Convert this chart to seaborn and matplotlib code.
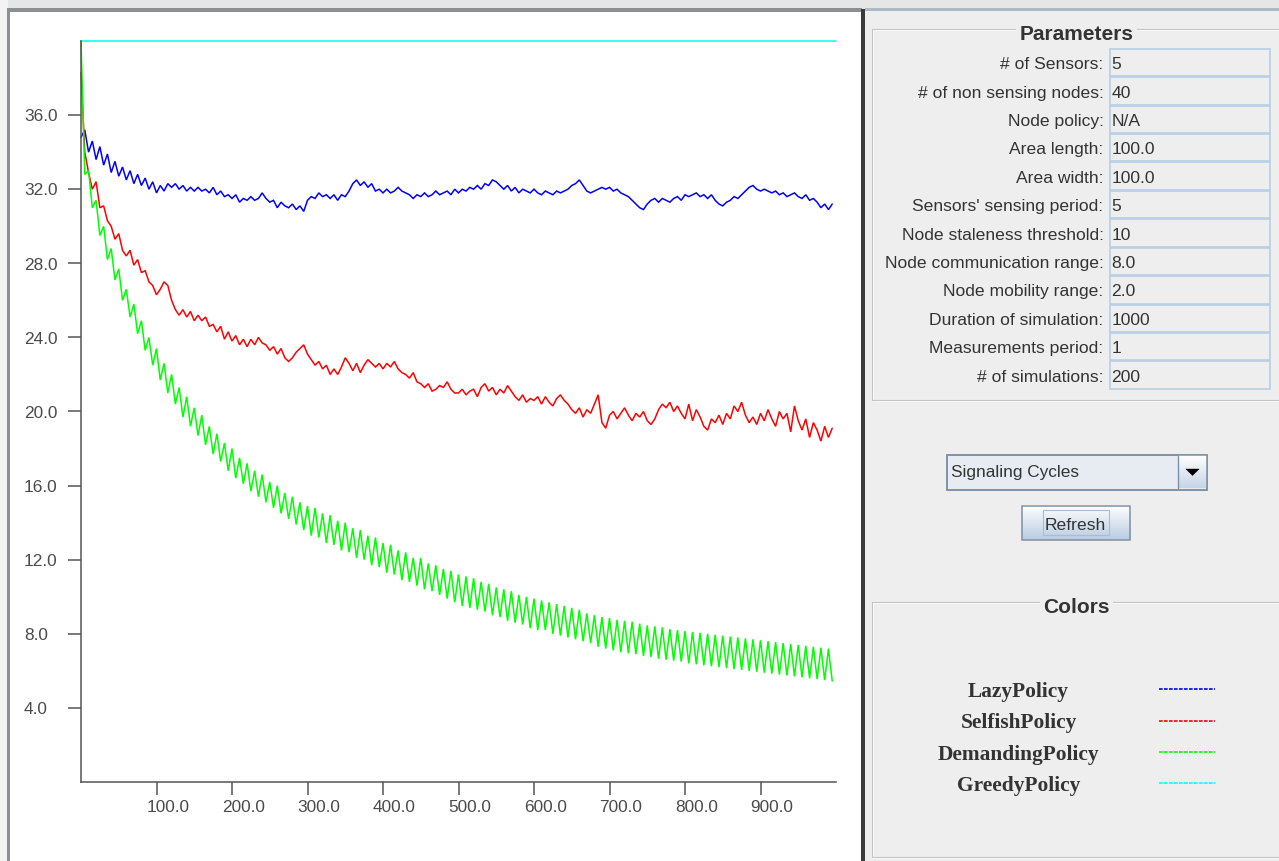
import numpy as np
import pandas as pd
import matplotlib
matplotlib.use("Agg")
import matplotlib.pyplot as plt
import matplotlib.transforms as mtransforms
from matplotlib.patches import Rectangle, Polygon
from matplotlib.lines import Line2D
from matplotlib.colors import to_rgb
import seaborn as sns

W, H = 1279, 861

# ---------------- data ----------------
time_step = 5  # simulation time between listed samples
policies = ["LazyPolicy", "SelfishPolicy", "DemandingPolicy", "GreedyPolicy"]
policy_colors = ["#0000FF", "#FF0000", "#00FF00", "#00FFFF"]

lazy = [
    34.8, 35.2, 34.0, 34.6, 33.6, 34.3, 33.3, 33.9, 32.9, 33.5,
    32.7, 33.2, 32.5, 33.0, 32.3, 32.8, 32.2, 32.6, 32.0, 32.4,
    31.8, 32.2, 31.9, 32.3, 32.1, 32.3, 32.0, 32.2, 31.9, 32.1,
    31.9, 32.1, 31.9, 32.0, 31.8, 32.1, 31.7, 31.9, 31.6, 31.7,
    31.5, 31.7, 31.3, 31.5, 31.4, 31.6, 31.4, 31.5, 31.8, 31.5,
    31.3, 31.4, 31.0, 31.3, 31.1, 31.0, 31.2, 30.9, 31.1, 30.8,
    31.4, 31.6, 31.5, 31.8, 31.6, 31.7, 31.5, 31.7, 31.4, 31.7,
    31.6, 31.9, 32.3, 32.5, 32.2, 32.4, 32.1, 32.3, 31.9, 32.0,
    31.8, 32.0, 31.8, 31.9, 32.1, 31.9, 31.8, 31.7, 31.5, 31.7,
    31.6, 31.8, 31.6, 31.7, 31.9, 31.7, 31.8, 31.9, 31.7, 32.0,
    31.8, 32.0, 31.9, 32.1, 32.0, 32.2, 32.0, 32.3, 32.2, 32.5,
    32.4, 32.2, 32.0, 32.2, 31.9, 32.1, 31.8, 32.0, 31.9, 31.8,
    32.0, 31.8, 31.7, 31.9, 31.8, 31.7, 31.9, 31.8, 31.9, 32.0,
    32.2, 32.3, 32.5, 32.2, 31.9, 31.8, 31.9, 32.0, 32.1, 32.0,
    32.1, 31.9, 32.0, 31.8, 31.7, 31.6, 31.4, 31.2, 31.0, 30.9,
    31.2, 31.4, 31.5, 31.3, 31.5, 31.4, 31.3, 31.5, 31.6, 31.4,
    31.7, 31.6, 31.7, 31.8, 31.6, 31.7, 31.5, 31.7, 31.4, 31.2,
    31.1, 31.3, 31.4, 31.6, 31.5, 31.7, 31.9, 32.1, 32.2, 32.0,
    31.9, 32.0, 31.9, 31.8, 31.9, 31.7, 31.8, 31.6, 31.7, 31.8,
    31.6, 31.5, 31.7, 31.4, 31.5, 31.3, 31.0, 31.2, 30.9, 31.2,
]

selfish = [
    38.3, 34.0, 32.9, 32.0, 32.4, 31.0, 31.1, 30.3, 30.0, 29.3,
    29.6, 28.7, 28.4, 28.7, 27.9, 28.2, 27.5, 27.6, 27.0, 26.8,
    26.3, 26.6, 27.0, 26.8, 26.0, 25.5, 25.2, 25.5, 25.1, 25.4,
    24.9, 25.2, 24.9, 25.1, 24.6, 24.7, 24.3, 24.6, 23.9, 24.3,
    23.8, 24.1, 23.6, 23.9, 23.5, 23.9, 23.6, 24.0, 23.7, 23.6,
    23.3, 23.5, 23.1, 23.4, 22.9, 22.7, 22.9, 23.2, 23.4, 23.6,
    23.1, 22.8, 22.5, 22.7, 22.3, 22.5, 22.0, 22.3, 22.0, 22.4,
    22.9, 22.6, 22.2, 22.6, 22.1, 22.5, 22.8, 22.6, 22.4, 22.6,
    22.3, 22.6, 22.4, 22.7, 22.3, 22.1, 22.0, 21.8, 22.1, 21.6,
    21.5, 21.3, 21.5, 21.1, 21.2, 21.4, 21.3, 21.6, 21.2, 21.0,
    21.0, 21.2, 20.9, 21.1, 21.2, 20.8, 21.3, 21.5, 21.1, 21.3,
    20.9, 21.2, 21.0, 21.4, 21.1, 20.8, 20.6, 20.9, 20.5, 20.7,
    20.6, 20.8, 20.4, 20.8, 20.5, 20.3, 20.7, 20.9, 20.6, 20.4,
    20.1, 19.9, 20.2, 19.7, 20.1, 19.9, 20.4, 20.9, 19.4, 19.1,
    19.8, 20.0, 19.6, 19.9, 20.2, 19.8, 19.5, 19.9, 19.7, 20.0,
    19.5, 19.3, 19.6, 20.1, 20.4, 20.2, 20.5, 20.0, 20.3, 19.9,
    19.6, 20.4, 19.5, 20.1, 19.7, 19.2, 19.0, 19.6, 19.4, 19.8,
    19.3, 19.9, 19.6, 20.3, 20.0, 20.5, 19.8, 19.4, 19.7, 19.3,
    19.9, 19.5, 20.1, 19.6, 19.2, 20.0, 19.6, 19.9, 18.9, 20.3,
    19.5, 19.0, 19.6, 18.6, 19.4, 19.0, 18.4, 19.2, 18.6, 19.1,
]

# DemandingPolicy oscillates: highs at t = 0, 10, 20, ... lows at t = 5, 15, 25, ...
demanding_highs = [
    40.0, 33.0, 31.4, 30.0, 28.8, 27.7, 26.6, 25.8, 24.9, 24.0,
    23.4, 22.6, 22.0, 21.3, 20.8, 20.2, 19.8, 19.2, 18.8, 18.3,
    18.0, 17.5, 17.2, 16.8, 16.6, 16.2, 16.0, 15.6, 15.4, 15.1,
    14.9, 14.8, 14.5, 14.4, 14.1, 14.0, 13.7, 13.6, 13.3, 13.2,
    12.9, 12.8, 12.5, 12.4, 12.1, 12.1, 11.8, 11.7, 11.5, 11.4,
    11.2, 11.1, 11.0, 10.8, 10.7, 10.5, 10.4, 10.3, 10.1, 10.0,
    9.9, 9.8, 9.7, 9.6, 9.5, 9.4, 9.3, 9.1, 9.0, 8.9,
    8.85, 8.75, 8.7, 8.65, 8.55, 8.45, 8.4, 8.35, 8.25, 8.2,
    8.15, 8.1, 8.05, 8.0, 7.95, 7.9, 7.85, 7.8, 7.75, 7.7,
    7.65, 7.6, 7.55, 7.5, 7.45, 7.4, 7.35, 7.3, 7.25, 7.2,
]
demanding_lows = [
    32.8, 31.0, 29.5, 28.2, 27.1, 26.0, 25.1, 24.2, 23.3, 22.5,
    21.7, 21.0, 20.4, 19.7, 19.2, 18.7, 18.2, 17.7, 17.3, 16.8,
    16.4, 16.1, 15.7, 15.4, 15.1, 14.8, 14.5, 14.2, 13.9, 13.6,
    13.3, 13.2, 12.9, 12.8, 12.5, 12.4, 12.1, 12.0, 11.7, 11.6,
    11.3, 11.2, 10.9, 10.8, 10.6, 10.4, 10.3, 10.1, 9.9, 9.7,
    9.5, 9.4, 9.3, 9.2, 9.0, 8.9, 8.7, 8.6, 8.5, 8.3,
    8.2, 8.2, 8.0, 7.9, 7.8, 7.7, 7.6, 7.5, 7.3, 7.2,
    7.1, 7.0, 6.95, 6.9, 6.8, 6.75, 6.65, 6.6, 6.55, 6.5,
    6.4, 6.35, 6.3, 6.25, 6.2, 6.15, 6.1, 6.05, 6.0, 5.95,
    5.9, 5.85, 5.8, 5.75, 5.7, 5.65, 5.6, 5.55, 5.5, 5.45,
]

greedy_t = [0, 1000]
greedy = [40.0, 40.0]

x_ticks = [100, 200, 300, 400, 500, 600, 700, 800, 900]
x_tick_labels = ["100.0", "200.0", "300.0", "400.0", "500.0", "600.0", "700.0", "800.0", "900.0"]
y_ticks = [4, 8, 12, 16, 20, 24, 28, 32, 36]
y_tick_labels = ["4.0", "8.0", "12.0", "16.0", "20.0", "24.0", "28.0", "32.0", "36.0"]

param_labels = ["# of Sensors:", "# of non sensing nodes:", "Node policy:", "Area length:",
                "Area width:", "Sensors' sensing period:", "Node staleness threshold:",
                "Node communication range:", "Node mobility range:", "Duration of simulation:",
                "Measurements period:", "# of simulations:"]
param_values = ["5", "40", "N/A", "100.0", "100.0", "5", "10", "8.0", "2.0", "1000", "1", "200"]
combo_text = "Signaling Cycles"
button_text = "Refresh"

# ---------------- build long table ----------------
t = np.arange(len(lazy)) * time_step
demanding = np.empty(len(demanding_highs) + len(demanding_lows))
demanding[0::2] = demanding_highs
demanding[1::2] = demanding_lows

frames = [
    pd.DataFrame({"t": t, "value": lazy, "policy": policies[0]}),
    pd.DataFrame({"t": t, "value": selfish, "policy": policies[1]}),
    pd.DataFrame({"t": t, "value": demanding, "policy": policies[2]}),
    pd.DataFrame({"t": greedy_t, "value": greedy, "policy": policies[3]}),
]
df = pd.concat(frames, ignore_index=True)

# ---------------- figure ----------------
sns.set_style("white")
plt.rcParams["font.family"] = ["Liberation Sans", "DejaVu Sans"]

fig = plt.figure(figsize=(W / 100, H / 100), dpi=100, facecolor="#EEEEEE")
bg = fig.add_axes([0, 0, 1, 1], zorder=0)
bg.axis("off")


def rect(x0, y0, x1, y1, fc="none", ec="none", lw=0.0, z=1):
    bg.add_patch(Rectangle((x0, y0), x1 - x0, y1 - y0, facecolor=fc,
                           edgecolor=ec, linewidth=lw, zorder=z))


def vgrad(x0, y0, x1, y1, c_top, c_bot, z=2):
    n = 40
    s = np.linspace(0, 1, n)[:, None, None]
    img = np.array(to_rgb(c_top))[None, None, :] * (1 - s) + np.array(to_rgb(c_bot))[None, None, :] * s
    bg.imshow(img, extent=(x0, x1, y1, y0), aspect="auto", zorder=z,
              interpolation="bilinear", origin="upper")


# window chrome
rect(0, 0, W, 9, fc="#E6E6E6")
rect(0, 0, 8, H, fc="#F3F3F3")
rect(7, 8, 862, H, fc="#8C8F94")
rect(10, 12, 861, H, fc="white", z=1.5)
rect(861, 9, 865, H, fc="#3B3B3B", z=1.6)
rect(865, 8, W, 11, fc="#AEB9C6")

# Parameters titled border
rect(872, 28.5, 1290, 400, ec="#C4C4C4", lw=0.8, z=1.2)
rect(873, 29.5, 1290, 401, ec="white", lw=0.6, z=1.1)
bg.text(1076.5, 39.5, "Parameters", ha="center", va="baseline", fontsize=15,
        fontweight="bold", color="#333333", zorder=3,
        bbox=dict(boxstyle="square,pad=0.15", fc="#EEEEEE", ec="none"))

row_top0, row_h = 48.3, 28.42
for i, (lab, val) in enumerate(zip(param_labels, param_values)):
    top = row_top0 + i * row_h
    rect(1109.5, top + 0.5, 1270, top + row_h - 0.5, fc="#EEEEEE", ec="#B8CFE5", lw=1.2, z=2)
    bg.text(1103.5, top + 20.8, lab, ha="right", va="baseline", fontsize=12.6,
            color="#333333", zorder=3)
    bg.text(1111.5, top + 20.8, val, ha="left", va="baseline", fontsize=12.6,
            color="#333333", zorder=3)

# combo box
rect(946.5, 455, 1207, 489.5, fc="#E7ECF2", ec="#7E90A5", lw=1.1, z=2)
vgrad(1178.5, 456, 1206, 488.5, "#FFFFFF", "#C6D5E6", z=2.1)
bg.plot([1178, 1178], [455.5, 489], color="#7E90A5", lw=1.0, zorder=2.2)
rect(946.5, 455, 1207, 489.5, ec="#7E90A5", lw=1.1, z=2.3)
bg.add_patch(Polygon([(1185.8, 469), (1199.2, 469), (1192.5, 475.5)], closed=True,
                     fc="black", ec="black", lw=0.3, zorder=2.4))
bg.text(951, 477.5, combo_text, ha="left", va="baseline", fontsize=12.4,
        color="#333333", zorder=3)

# refresh button
vgrad(1021.5, 505.5, 1130, 540, "#FFFFFF", "#B8CCE2", z=2)
rect(1021.5, 505.5, 1130, 540, ec="#7E90A5", lw=1.1, z=2.3)
rect(1043, 510, 1108.5, 535, ec="#A8BDD3", lw=0.8, z=2.4)
bg.text(1075.5, 530, button_text, ha="center", va="baseline", fontsize=12.6,
        color="#333333", zorder=3)

# Colors titled border
rect(872, 602, 1290, 857, ec="#C4C4C4", lw=0.8, z=1.2)
rect(873, 603, 1290, 858, ec="white", lw=0.6, z=1.1)
bg.text(1076.5, 613.3, "Colors", ha="center", va="baseline", fontsize=15,
        fontweight="bold", color="#333333", zorder=3,
        bbox=dict(boxstyle="square,pad=0.15", fc="#EEEEEE", ec="none"))

legend_line_y = [689.3, 721.0, 752.3, 783.3]
for name, col, ly in zip(policies, policy_colors, legend_line_y):
    bg.text(1018.5, ly + 7.4, name, ha="center", va="baseline", fontsize=15.4,
            fontweight="bold", family=["Liberation Serif", "DejaVu Serif"],
            color="#333333", zorder=3)
    bg.add_line(Line2D([1158.5, 1215], [ly, ly], color=col, lw=1.2,
                       linestyle=(0, (2.2, 0.8)), zorder=3))

bg.set_xlim(0, W)
bg.set_ylim(H, 0)

# ---------------- chart ----------------
ax = fig.add_axes([81 / W, (H - 782) / H, (836 - 81) / W, (782 - 41) / H], zorder=2)
ax.patch.set_alpha(0)
sns.lineplot(data=df, x="t", y="value", hue="policy", hue_order=policies,
             palette=dict(zip(policies, policy_colors)), estimator=None, sort=False,
             errorbar=None, legend=False, linewidth=1.1, ax=ax)
for ln in ax.lines:
    ln.set_clip_on(False)
    ln.set_solid_joinstyle("miter")

ax.set_xlim(0, 1000)
ax.set_ylim(0, 40)
ax.set_xlabel("")
ax.set_ylabel("")
for side in ["top", "right"]:
    ax.spines[side].set_visible(False)
for side in ["left", "bottom"]:
    ax.spines[side].set_color("#555555")
    ax.spines[side].set_linewidth(1.1)
ax.set_xticks(x_ticks)
ax.set_yticks(y_ticks)
ax.tick_params(axis="both", which="major", bottom=True, left=True, top=False, right=False,
               direction="out", length=9.4, width=1.1, color="#555555",
               labelbottom=False, labelleft=False)
ax.grid(False)

ytrans = mtransforms.blended_transform_factory(mtransforms.IdentityTransform(), ax.transData) \
    + mtransforms.Affine2D().translate(0, -6.2)
for v, lab in zip(y_ticks, y_tick_labels):
    ax.text(24, v, lab, transform=ytrans, ha="left", va="baseline",
            fontsize=12.4, color="#4A4A4A")

xtrans = mtransforms.blended_transform_factory(ax.transData, mtransforms.IdentityTransform()) \
    + mtransforms.Affine2D().translate(-10, 0)
for v, lab in zip(x_ticks, x_tick_labels):
    ax.text(v, H - 812.5, lab, transform=xtrans, ha="left", va="baseline",
            fontsize=12.4, color="#4A4A4A")

fig.savefig("out.png", dpi=100, facecolor=fig.get_facecolor())
